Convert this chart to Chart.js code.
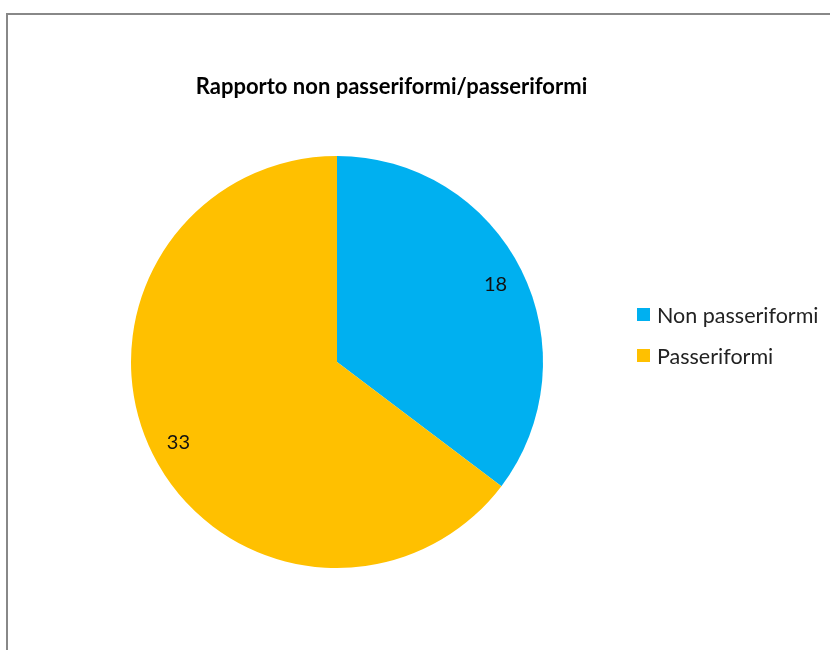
<!DOCTYPE html>
<html lang="it">
<head>
    <meta charset="UTF-8">
    <title>Rapporto non passeriformi/passeriformi</title>
    <script src="https://cdn.jsdelivr.net/npm/chart.js"></script>
    <style>
        body {
            margin: 0;
            width: 830px;
            height: 650px;
            overflow: hidden;
            background: #fff;
            font-family: Lato, 'Open Sans', sans-serif;
            position: relative;
        }
        .frame {
            position: absolute;
            left: 6px;
            top: 13px;
            width: 900px;
            height: 700px;
            border-left: 2px solid #888;
            border-top: 2px solid #888;
        }
        .title {
            position: absolute;
            left: 0;
            width: 783px;
            top: 72px;
            text-align: center;
            font-weight: bold;
            font-size: 22px;
            color: #000;
        }
        .legend {
            position: absolute;
            left: 637px;
            top: 294px;
            font-size: 21.5px;
            color: #222;
        }
        .legend div {
            height: 41px;
            display: flex;
            align-items: center;
        }
        .legend span.box {
            display: inline-block;
            width: 13px;
            height: 13px;
            margin-right: 7px;
        }
        #pieChart {
            position: absolute;
            left: 0;
            top: 0;
        }
    </style>
</head>
<body>
    <div class="frame"></div>
    <canvas id="pieChart" width="830" height="650"></canvas>
    <div class="title">Rapporto non passeriformi/passeriformi</div>
    <div class="legend" id="legend"></div>

    <script>
        const categories = ['Non passeriformi', 'Passeriformi'];
        const values = [18, 33];
        const colors = ['#00B0F0', '#FFC000'];

        // legend
        const legendEl = document.getElementById('legend');
        categories.forEach((label, i) => {
            legendEl.innerHTML += `<div><span class="box" style="background:${colors[i]}"></span>${label}</div>`;
        });

        // value labels inside slices
        const valueLabels = {
            id: 'valueLabels',
            afterDatasetsDraw(chart) {
                const ctx = chart.ctx;
                const meta = chart.getDatasetMeta(0);
                ctx.save();
                ctx.font = '20px Lato, sans-serif';
                ctx.fillStyle = '#111';
                ctx.textAlign = 'center';
                ctx.textBaseline = 'middle';
                meta.data.forEach((arc, i) => {
                    const mid = (arc.startAngle + arc.endAngle) / 2;
                    const r = arc.outerRadius * 0.86;
                    ctx.fillText(values[i], arc.x + Math.cos(mid) * r, arc.y + Math.sin(mid) * r + 2);
                });
                ctx.restore();
            }
        };

        new Chart(document.getElementById('pieChart'), {
            type: 'pie',
            data: {
                labels: categories,
                datasets: [{
                    data: values,
                    backgroundColor: colors,
                    borderWidth: 0
                }]
            },
            options: {
                responsive: false,
                animation: false,
                layout: {
                    padding: { left: 130, top: 156, right: 286, bottom: 82 }
                },
                plugins: {
                    legend: { display: false },
                    title: { display: false },
                    tooltip: { enabled: false }
                }
            },
            plugins: [valueLabels]
        });
    </script>
</body>
</html>
